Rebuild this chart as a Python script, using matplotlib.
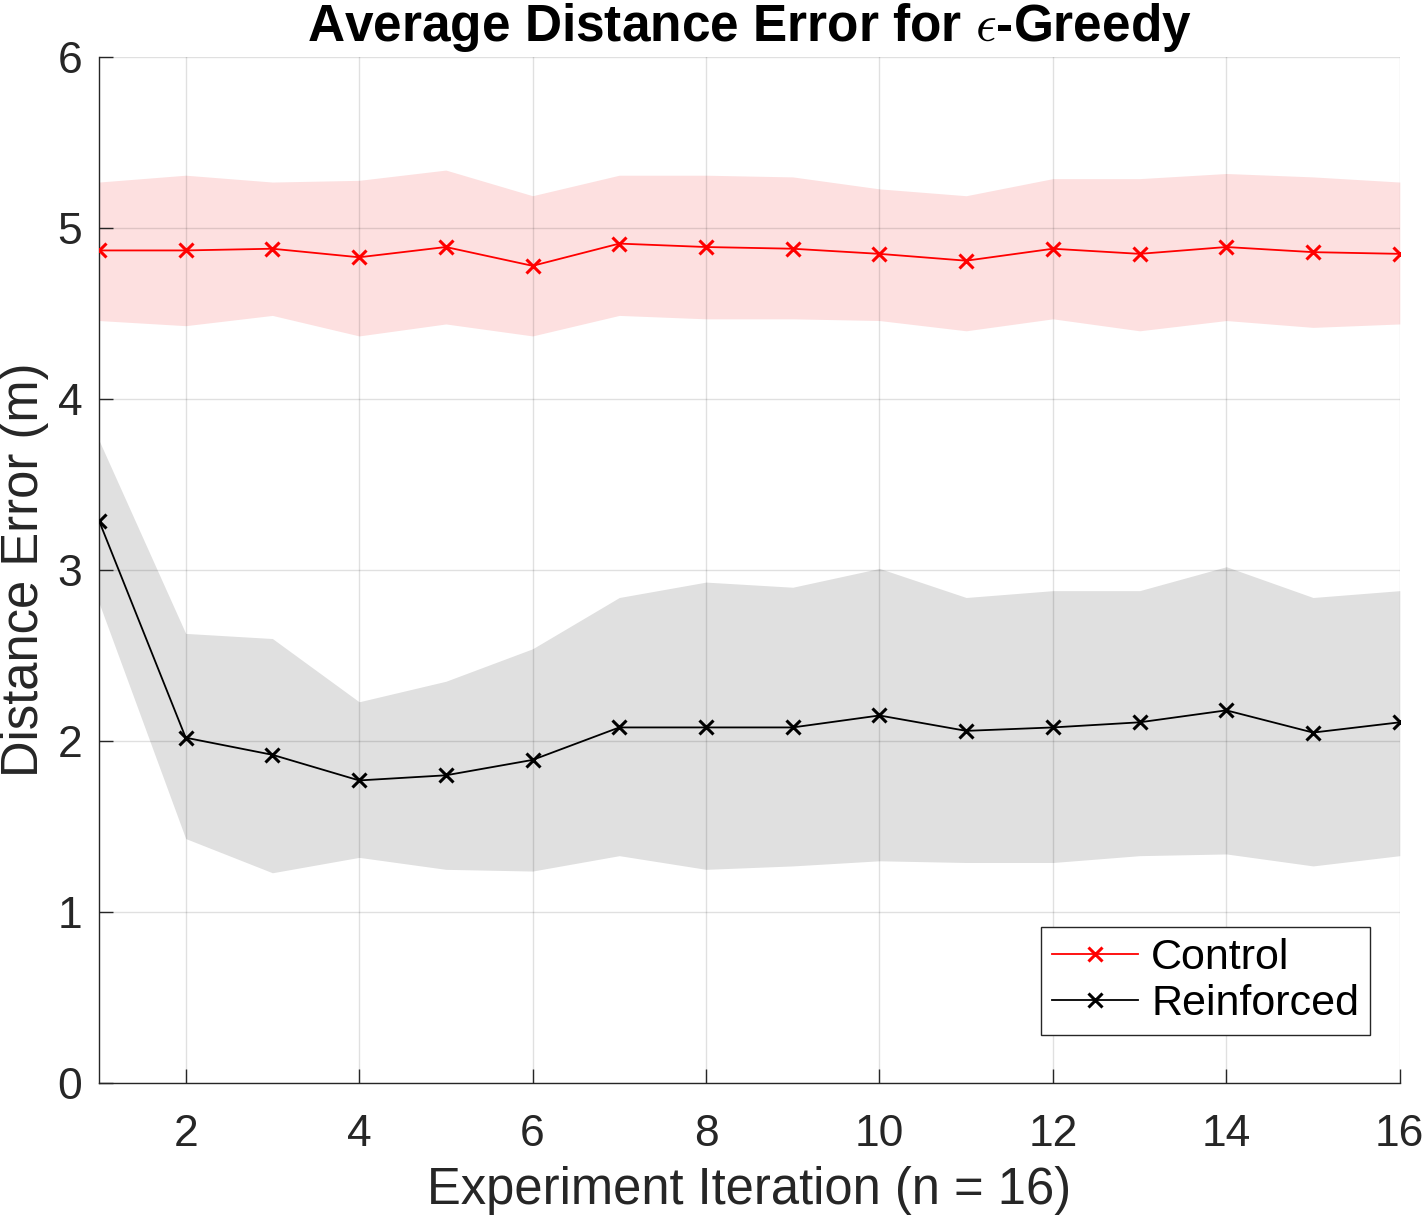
"""Average distance error for epsilon-greedy."""
import matplotlib
matplotlib.use("Agg")
import matplotlib.pyplot as plt
import numpy as np

iterations = np.arange(1, 17)

control_mean = [4.87, 4.87, 4.88, 4.83, 4.89, 4.78, 4.91, 4.89,
                4.88, 4.85, 4.81, 4.88, 4.85, 4.89, 4.86, 4.85]
control_upper = [5.27, 5.31, 5.27, 5.28, 5.34, 5.19, 5.31, 5.31,
                 5.30, 5.23, 5.19, 5.29, 5.29, 5.32, 5.30, 5.27]
control_lower = [4.46, 4.43, 4.49, 4.37, 4.44, 4.37, 4.49, 4.47,
                 4.47, 4.46, 4.40, 4.47, 4.40, 4.46, 4.42, 4.44]

reinf_mean = [3.29, 2.02, 1.92, 1.77, 1.80, 1.89, 2.08, 2.08,
              2.08, 2.15, 2.06, 2.08, 2.11, 2.18, 2.05, 2.11]
reinf_upper = [3.76, 2.63, 2.60, 2.23, 2.35, 2.54, 2.84, 2.93,
               2.90, 3.01, 2.84, 2.88, 2.88, 3.02, 2.84, 2.88]
reinf_lower = [2.81, 1.43, 1.23, 1.32, 1.25, 1.24, 1.33, 1.25,
               1.27, 1.30, 1.29, 1.29, 1.33, 1.34, 1.27, 1.33]


def main():
    plt.rcParams["font.family"] = ["Liberation Sans", "DejaVu Sans"]
    plt.rcParams["mathtext.fontset"] = "cm"

    fig = plt.figure(figsize=(14.24, 12.18), dpi=100)
    ax = fig.add_axes([0.0695, 0.1108, 0.9135, 0.8422])

    ax.fill_between(iterations, control_lower, control_upper,
                    color="#fde0e0", linewidth=0, zorder=1)
    ax.fill_between(iterations, reinf_lower, reinf_upper,
                    color="#e0e0e0", linewidth=0, zorder=1)

    ax.plot(iterations, control_mean, color="red", marker="x",
            markersize=10, markeredgewidth=2.2, linewidth=1.3,
            label="Control", zorder=3)
    ax.plot(iterations, reinf_mean, color="black", marker="x",
            markersize=10, markeredgewidth=2.2, linewidth=1.3,
            label="Reinforced", zorder=3)

    ax.set_xlim(1, 16)
    ax.set_ylim(0, 6)
    ax.set_xticks(range(2, 17, 2))
    ax.set_yticks(range(0, 7))
    ax.grid(True, color="#000000", alpha=0.12, linewidth=1.0, zorder=2)
    ax.set_axisbelow(False)

    for side in ("top", "right"):
        ax.spines[side].set_visible(False)
    for side in ("left", "bottom"):
        ax.spines[side].set_color("#262626")
        ax.spines[side].set_linewidth(1.0)
    ax.tick_params(direction="in", length=10, width=1.0, labelsize=32,
                   colors="#262626")
    ax.tick_params(axis="x", pad=22)
    ax.tick_params(axis="y", pad=12)

    ax.set_xlabel("Experiment Iteration (n = 16)", fontsize=36.5,
                  color="#262626", labelpad=8)
    ax.set_ylabel("Distance Error (m)", fontsize=36.5, color="#262626",
                  labelpad=6)
    ax.set_title(r"Average Distance Error for $\epsilon$-Greedy",
                 fontsize=37, fontweight="bold", pad=12)

    leg = ax.legend(loc="lower right", bbox_to_anchor=(0.977, 0.047),
                    borderaxespad=0, fontsize=31, fancybox=False,
                    framealpha=1, edgecolor="#262626", borderpad=0.25,
                    labelspacing=0.15, handlelength=2.0,
                    handletextpad=0.3)
    leg.get_frame().set_linewidth(1.0)

    fig.savefig("out.png", dpi=100)


if __name__ == "__main__":
    main()
